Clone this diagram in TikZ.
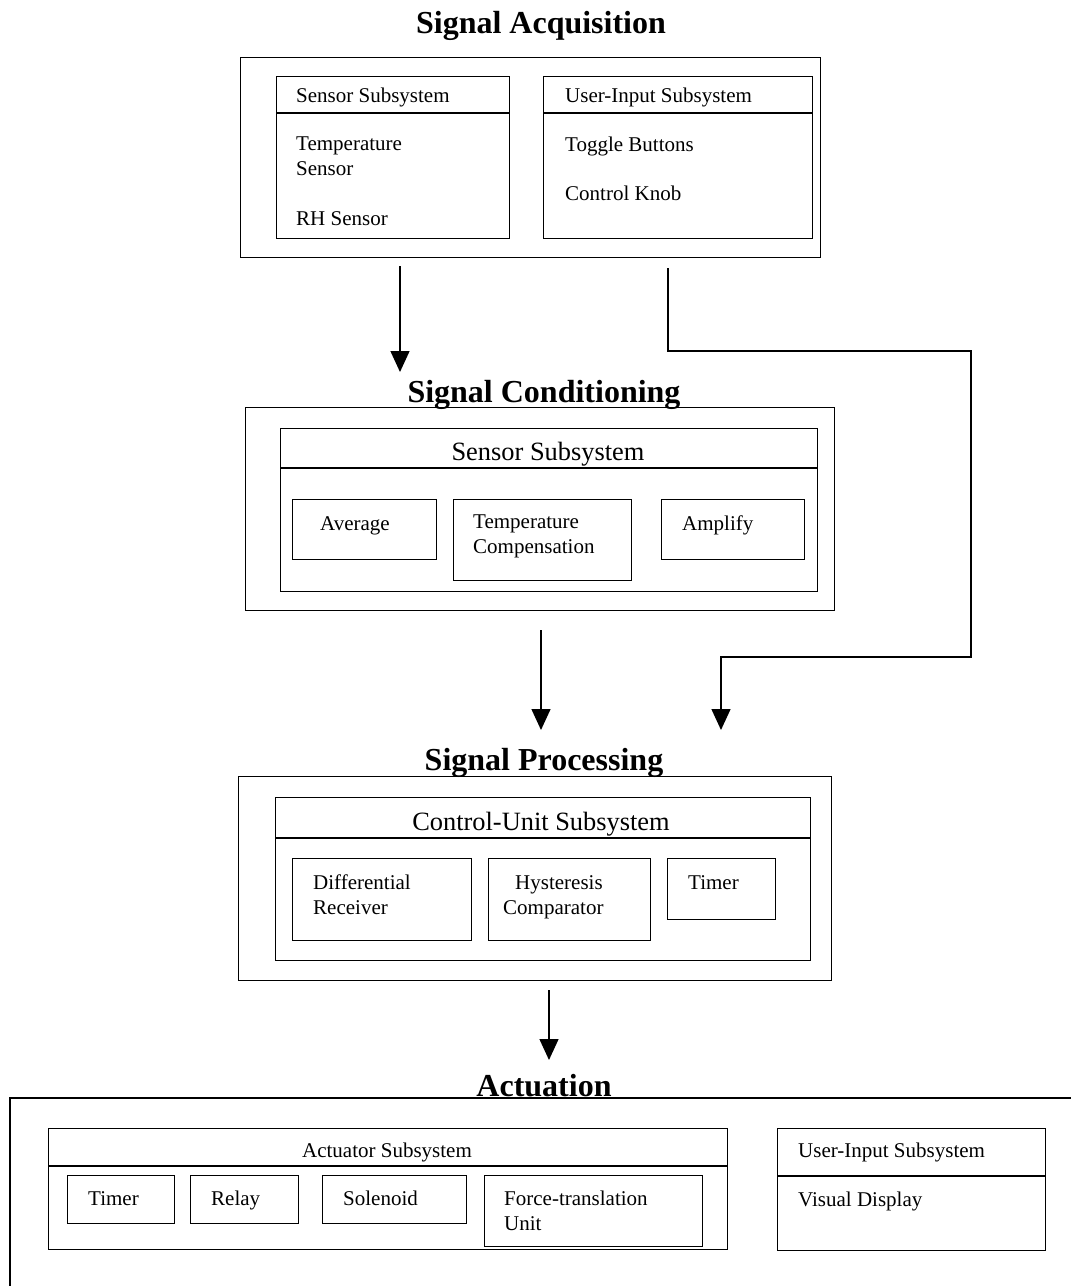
\documentclass[tikz,border=0pt]{standalone}
\usepackage{fontspec}
\setmainfont{Liberation Serif}
\usetikzlibrary{arrows.meta}
\tikzset{
  box/.style={draw, line width=1.3pt, inner sep=0pt, anchor=north west},
  hdr/.style={line width=1.3pt},
  ttl/.style={inner sep=0pt, anchor=base, font=\fontsize{32}{36}\selectfont\bfseries},
  lbl/.style={inner sep=0pt, anchor=base west, yshift=-2pt, font=\fontsize{21}{25}\selectfont},
  mlbl/.style={inner sep=0pt, anchor=north west, yshift=-2pt, align=left, font=\fontsize{21}{25}\selectfont},
  bighdr/.style={inner sep=0pt, anchor=base, yshift=-1pt, font=\fontsize{26.4}{30}\selectfont},
  flow/.style={line width=1.4pt, -{Triangle[width=19pt,length=21pt]}},
  flowline/.style={line width=1.4pt}
}
\begin{document}
\begin{tikzpicture}[x=1pt,y=-1pt]
\useasboundingbox (0,0) rectangle (1071,1286);

% ---- Signal Acquisition ----
\node[ttl] (tAcq) at (541,33) {Signal Acquisition};
\node[box, minimum width=580pt, minimum height=200pt] (acqOuter) at (240,57) {};
\node[box, minimum width=233pt, minimum height=162pt] (acqL) at (276,76) {};
\draw[hdr] (276,113) -- (509,113);
\node[box, minimum width=269pt, minimum height=162pt] (acqR) at (543,76) {};
\draw[hdr] (543,113) -- (812,113);
\node[lbl] (acqLh) at (296,100) {Sensor Subsystem};
\node[mlbl] (tsens) at (296,135) {Temperature\\Sensor};
\node[lbl] (rhs) at (296,223) {RH Sensor};
\node[lbl] (acqRh) at (565,100) {User-Input Subsystem};
\node[lbl] (tog) at (565,149) {Toggle Buttons};
\node[lbl] (knob) at (565,198) {Control Knob};

% ---- Signal Conditioning ----
\node[ttl] (tCond) at (544,402) {Signal Conditioning};
\node[box, minimum width=589pt, minimum height=203pt] (condOuter) at (245,407) {};
\node[box, minimum width=537pt, minimum height=163pt] (condIn) at (280,428) {};
\draw[hdr] (280,468) -- (817,468);
\node[bighdr] (condh) at (548,459) {Sensor Subsystem};
\node[box, minimum width=144pt, minimum height=60pt] (avg) at (292,499) {};
\node[box, minimum width=178pt, minimum height=81pt] (tcomp) at (453,499) {};
\node[box, minimum width=143pt, minimum height=60pt] (amp) at (661,499) {};
\node[lbl] (avgt) at (320,528) {Average};
\node[mlbl] (tcompt) at (473,513) {Temperature\\Compensation};
\node[lbl] (ampt) at (682,528) {Amplify};

% ---- Signal Processing ----
\node[ttl] (tProc) at (544,770) {Signal Processing};
\node[box, minimum width=593pt, minimum height=204pt] (procOuter) at (238,776) {};
\node[box, minimum width=535pt, minimum height=163pt] (procIn) at (275,797) {};
\draw[hdr] (275,838) -- (810,838);
\node[bighdr] (proch) at (541,829) {Control-Unit Subsystem};
\node[box, minimum width=179pt, minimum height=82pt] (diff) at (292,858) {};
\node[box, minimum width=162pt, minimum height=82pt] (hyst) at (488,858) {};
\node[box, minimum width=108pt, minimum height=61pt] (ptimer) at (667,858) {};
\node[mlbl] (difft) at (313,873) {Differential\\Receiver};
\node[mlbl] (hystt) at (503,873) {\hspace*{12pt}Hysteresis\\Comparator};
\node[lbl] (ptimert) at (688,887) {Timer};

% ---- Actuation ----
\node[ttl] (tAct) at (544,1096) {Actuation};
\draw[hdr] (10,1286) -- (10,1098) -- (1071,1098);
\node[box, minimum width=679pt, minimum height=121pt] (actIn) at (48,1128) {};
\draw[hdr] (48,1166) -- (727,1166);
\node[lbl, anchor=base] (acth) at (387,1155) {Actuator Subsystem};
\node[box, minimum width=107pt, minimum height=48pt] (atimer) at (67,1175) {};
\node[box, minimum width=108pt, minimum height=48pt] (relay) at (190,1175) {};
\node[box, minimum width=144pt, minimum height=48pt] (sol) at (322,1175) {};
\node[box, minimum width=218pt, minimum height=71pt] (force) at (484,1175) {};
\node[lbl] (atimert) at (88,1203) {Timer};
\node[lbl] (relayt) at (211,1203) {Relay};
\node[lbl] (solt) at (343,1203) {Solenoid};
\node[mlbl] (forcet) at (504,1189) {Force-translation\\Unit};
\node[box, minimum width=268pt, minimum height=122pt] (uinp) at (777,1128) {};
\draw[hdr] (777,1176) -- (1045,1176);
\node[lbl] (uinph) at (798,1155) {User-Input Subsystem};
\node[lbl] (vis) at (798,1204) {Visual Display};

% ---- connectors ----
\coordinate (s1) at (400,266);
\coordinate (e1) at (400,372);
\draw[flow] (s1) -- (e1);

\coordinate (s2) at (668,268);
\coordinate (b1) at (668,351);
\coordinate (b2) at (971,351);
\coordinate (b3) at (971,657);
\coordinate (b4) at (721,657);
\coordinate (e2) at (721,730);
\draw[flow, line join=miter] (s2) -- (b1) -- (b2) -- (b3) -- (b4) -- (e2);

\coordinate (s3) at (541,630);
\coordinate (e3) at (541,730);
\draw[flow] (s3) -- (e3);

\coordinate (s4) at (549,990);
\coordinate (e4) at (549,1060);
\draw[flow] (s4) -- (e4);
\end{tikzpicture}
\end{document}
